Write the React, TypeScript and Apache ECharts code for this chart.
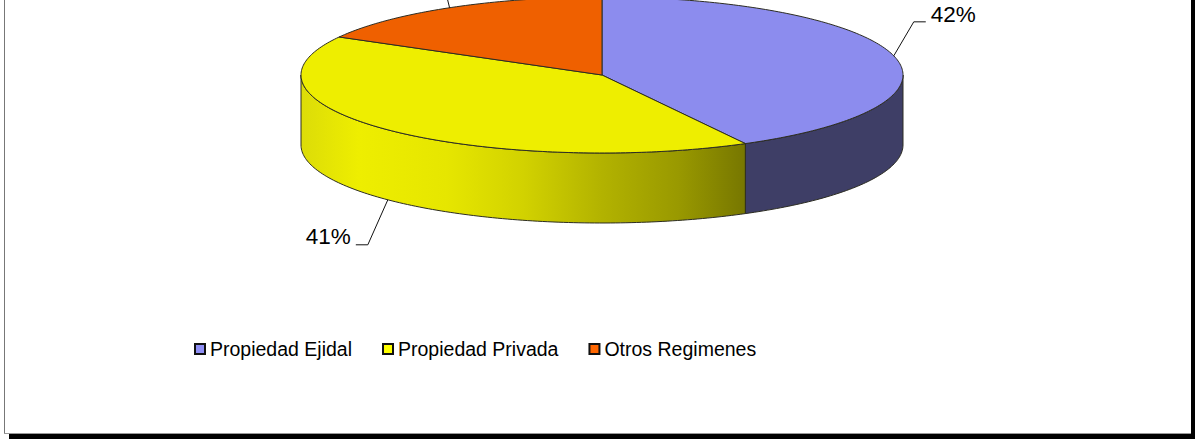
import React, { useEffect, useRef } from "react";
import * as echarts from "echarts";

const categories = ["Propiedad Ejidal", "Propiedad Privada", "Otros Regimenes"];
const percentValues = [42.1, 41, 16.9];
const percentLabels = ["42%", "41%", ""];

const topColors = ["#8c8cee", "#eeee00", "#ef6000"];
const legendColors = ["#8f8ff5", "#ffff00", "#ff6600"];

const WIDTH = 1195;
const HEIGHT = 439;
const CX = 602;
const CY = 75;
const RX = 301;
const RY = 78;
const DEPTH = 70;
const EDGE = "#2c2c22";

const yellowWall = new echarts.graphic.LinearGradient(
  CX - RX, 0, CX + 143, 0,
  [
    { offset: 0, color: "#dcdc08" },
    { offset: 0.13, color: "#eeee00" },
    { offset: 0.33, color: "#e6e600" },
    { offset: 0.5, color: "#d2d200" },
    { offset: 0.68, color: "#b2b200" },
    { offset: 0.85, color: "#999900" },
    { offset: 1, color: "#777700" },
  ],
  true as any
);
const sideFills: any[] = ["#3e3e66", yellowWall, "#8a3800"];

// leader elbow offsets relative to the slice's anchor on the pie rim
const leaderElbows = [
  [[20, -34], [32, -34]],
  [[-20, 45], [-32, 45]],
  [[-6, -24], [-6, -24]],
];
const labelOffsets = [
  [37, -41, "left"],
  [-37, 36.5, "right"],
  [0, 0, "left"],
];

const total = percentValues.reduce((a, b) => a + b, 0);
const point = (deg: number, dy = 0) => {
  const r = (deg * Math.PI) / 180;
  return [CX + RX * Math.cos(r), CY + dy + RY * Math.sin(r)];
};
const arcPoints = (from: number, to: number, dy = 0) => {
  const n = Math.max(2, Math.ceil(Math.abs(to - from)));
  const pts: number[][] = [];
  for (let i = 0; i <= n; i++) pts.push(point(from + ((to - from) * i) / n, dy));
  return pts;
};

function makeRenderItem(index: number) {
  return (_params: any, api: any) => {
    const value = api.value(0) as number;
    const before = percentValues.slice(0, index).reduce((a, b) => a + b, 0);
    const start = -90 + (before / total) * 360;
    const end = start + (value / total) * 360;
    const mid = (start + end) / 2;
    const children: any[] = [];

    // Front wall: the part of the slice rim that faces the viewer (0..180deg).
    const wallFrom = Math.max(start, 0);
    const wallTo = Math.min(end, 180);
    if (wallTo > wallFrom) {
      const upper = arcPoints(wallFrom, wallTo);
      const lower = arcPoints(wallTo, wallFrom, DEPTH);
      children.push({
        type: "polygon",
        shape: { points: upper.concat(lower) },
        style: { fill: sideFills[index], stroke: EDGE, lineWidth: 1 },
      });
    }

    // Top face
    children.push({
      type: "polygon",
      shape: { points: [[CX, CY]].concat(arcPoints(start, end)) },
      style: { fill: topColors[index], stroke: EDGE, lineWidth: 1 },
    });

    // Leader line
    const onFront = mid > 0 && mid < 180;
    const anchor = point(mid, onFront ? DEPTH : 0);
    const elbows = leaderElbows[index].map((o) => [anchor[0] + o[0], anchor[1] + o[1]]);
    children.push({
      type: "polyline",
      shape: { points: [anchor].concat(elbows) },
      style: { fill: "none", stroke: "#111111", lineWidth: 1 },
    });
    if (percentLabels[index]) {
      const off = labelOffsets[index];
      children.push({
        type: "text",
        x: anchor[0] + (off[0] as number),
        y: anchor[1] + (off[1] as number),
        style: {
          text: percentLabels[index],
          fill: "#000000",
          fontFamily: "Liberation Sans",
          fontSize: 22.5,
          align: off[2] as string,
          verticalAlign: "middle",
        },
      });
    }
    return { type: "group", children };
  };
}

export default function App() {
  const ref = useRef<HTMLDivElement>(null);
  useEffect(() => {
    document.body.style.margin = "0";
    const chart = echarts.init(ref.current!, undefined, { renderer: "svg" });
    chart.setOption({
      animation: false,
      backgroundColor: "#ffffff",
      legend: {
        left: 189,
        top: 334,
        orient: "horizontal",
        itemWidth: 10,
        itemHeight: 10,
        itemGap: 30,
        textStyle: { color: "#000000", fontFamily: "Liberation Sans", fontSize: 19.5 },
        data: categories.map((name, i) => ({
          name,
          icon: "rect",
          itemStyle: { color: legendColors[i], borderColor: "#111111", borderWidth: 2 },
        })),
        selectedMode: false,
      },
      graphic: [
        { type: "rect", silent: true, shape: { x: 9, y: 434, width: WIDTH - 9, height: 5 }, style: { fill: "#000000" } },
        { type: "rect", silent: true, shape: { x: 1191, y: 0, width: 4, height: 439 }, style: { fill: "#000000" } },
        { type: "line", silent: true, shape: { x1: 4.5, y1: 0, x2: 4.5, y2: 433.5 }, style: { stroke: "#777777", lineWidth: 1 } },
        { type: "line", silent: true, shape: { x1: 4, y1: 433.5, x2: 1191, y2: 433.5 }, style: { stroke: "#999999", lineWidth: 1 } },
      ],
      series: categories.map((name, i) => ({
        type: "custom",
        name,
        coordinateSystem: "none",
        silent: true,
        clip: false,
        itemStyle: { color: legendColors[i] },
        data: [[percentValues[i]]],
        renderItem: makeRenderItem(i),
      })),
    });
    return () => chart.dispose();
  }, []);
  return <div ref={ref} style={{ width: WIDTH, height: HEIGHT }} />;
}
